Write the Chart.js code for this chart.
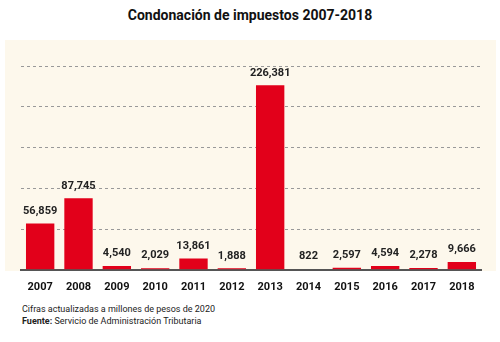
<!DOCTYPE html>
<html>
<head>
<meta charset="utf-8">
<script src="https://cdn.jsdelivr.net/npm/chart.js@4.4.0/dist/chart.umd.min.js"></script>
<style>
	body { margin: 0; background: #fff; width: 500px; height: 342px; position: relative; font-family: Roboto, sans-serif; }
	.title { position: absolute; top: 7px; left: 0; width: 500px; text-align: center; font-weight: 700; font-size: 14px; color: #111; }
	.panel { position: absolute; left: 5px; top: 40px; width: 491px; height: 231px; background: #fdf8ec; }
	.chart { position: absolute; left: 0; top: 37px; width: 500px; height: 260px; }
	.note { position: absolute; left: 22px; font-size: 9px; color: #222; }
</style>
</head>
<body>
<div class="title">Condonación de impuestos 2007-2018</div>
<div class="panel"></div>
<div class="chart"><canvas id="c" width="500" height="260"></canvas></div>
<div class="note" style="top:304px">Cifras actualizadas a millones de pesos de 2020</div>
<div class="note" style="top:316px"><b>Fuente:</b> Servicio de Administración Tributaria</div>
<script>
const years = ["2007", "2008", "2009", "2010", "2011", "2012", "2013", "2014", "2015", "2016", "2017", "2018"];
const amounts = [56859, 87745, 4540, 2029, 13861, 1888, 226381, 822, 2597, 4594, 2278, 9666];
const yMax = 250000;
const yStep = 50000;

// numbers over the bars
const barLabels = {
	id: 'barLabels',
	afterDatasetsDraw(chart) {
		const ctx = chart.ctx;
		const meta = chart.getDatasetMeta(0);
		ctx.save();
		ctx.font = "bold 11px Roboto";
		ctx.fillStyle = "#222";
		ctx.textAlign = "center";
		ctx.textBaseline = "bottom";
		meta.data.forEach((bar, i) => {
			ctx.fillText(amounts[i].toLocaleString("en-US"), bar.x, bar.y - 7);
		});
		ctx.restore();
	}
};

new Chart(document.getElementById("c"), {
	type: 'bar',
	data: {
		labels: years,
		datasets: [{
			data: amounts,
			backgroundColor: "#e2001a",
			categoryPercentage: 1,
			barPercentage: 0.74
		}]
	},
	options: {
		responsive: false,
		animation: false,
		layout: { padding: { left: 21, right: 19, top: 29, bottom: 0 } },
		plugins: { legend: { display: false }, tooltip: { enabled: false } },
		scales: {
			x: {
				grid: { display: false },
				border: { display: true, color: "#555", width: 2 },
				ticks: { color: "#111", font: { family: "Roboto", size: 11, weight: "bold" }, padding: 3 }
			},
			y: {
				min: 0,
				max: yMax,
				ticks: { display: false, stepSize: yStep },
				grid: {
					color: (c) => c.tick.value === 0 ? "rgba(0,0,0,0)" : "#999",
					drawTicks: false,
					lineWidth: 1
				},
				border: { display: false, dash: [3, 3] }
			}
		}
	},
	plugins: [barLabels]
});
</script>
</body>
</html>
